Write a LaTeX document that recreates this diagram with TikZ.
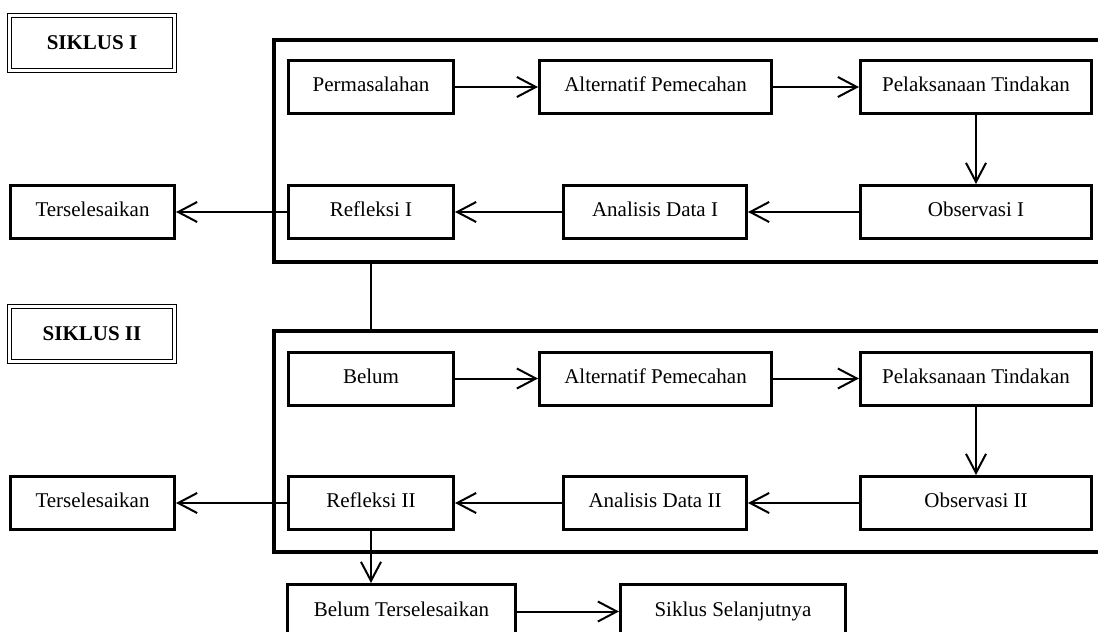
\documentclass[tikz,border=0pt]{standalone}
\usepackage{fontspec}
\setmainfont{Liberation Serif}
\usetikzlibrary{arrows.meta,calc}

\tikzset{
	kotak/.style={draw, line width=3pt, minimum height=53pt, inner sep=0pt,
		text height=14pt, text depth=4.5pt},
	judul/.style={draw, double, line width=1.2pt, double distance=2.5pt,
		minimum width=165pt, minimum height=55pt, font=\bfseries\fontsize{21}{25}\selectfont},
	bingkai/.style={draw, line width=4.5pt, minimum width=846pt},
	panah/.style={line width=2pt, -{Straight Barb[length=19pt,width=20pt]}},
	garis/.style={line width=2pt}
}

\begin{document}
\begin{tikzpicture}[x=1pt, y=-1pt, font=\fontsize{21}{25}\selectfont]
	\useasboundingbox (0,0) rectangle (1098,632);
	%frames
	\node[bingkai, minimum height=222pt] (bingkaiA) at (697,151) {};
	\node[bingkai, minimum height=221pt] (bingkaiB) at (697,441.5) {};
	%titles
	\node[judul] (siklusA) at (92,43) {SIKLUS I};
	\node[judul] (siklusB) at (92,334) {SIKLUS II};
	%cycle I
	\node[kotak, minimum width=165pt] (masalah) at (371,87) {Permasalahan};
	\node[kotak, minimum width=232pt] (alternatifA) at (655.5,87) {Alternatif Pemecahan};
	\node[kotak, minimum width=231pt] (pelaksanaanA) at (976,87) {Pelaksanaan Tindakan};
	\node[kotak, minimum width=231pt] (observasiA) at (976,212) {Observasi I};
	\node[kotak, minimum width=183pt] (analisisA) at (655,212) {Analisis Data I};
	\node[kotak, minimum width=165pt] (refleksiA) at (371,212) {Refleksi I};
	\node[kotak, minimum width=164pt] (selesaiA) at (92.5,212) {Terselesaikan};
	%cycle II
	\node[kotak, minimum width=165pt] (belum) at (371,378.5) {Belum};
	\node[kotak, minimum width=232pt] (alternatifB) at (655.5,378.5) {Alternatif Pemecahan};
	\node[kotak, minimum width=231pt] (pelaksanaanB) at (976,378.5) {Pelaksanaan Tindakan};
	\node[kotak, minimum width=231pt] (observasiB) at (976,503) {Observasi II};
	\node[kotak, minimum width=183pt] (analisisB) at (655,503) {Analisis Data II};
	\node[kotak, minimum width=165pt] (refleksiB) at (371,503) {Refleksi II};
	\node[kotak, minimum width=164pt] (selesaiB) at (92.5,503) {Terselesaikan};
	%next
	\node[kotak, minimum width=228pt, minimum height=54pt] (belumSelesai) at (401.5,611.5) {Belum Terselesaikan};
	\node[kotak, minimum width=225pt, minimum height=54pt] (lanjut) at (733,611.5) {Siklus Selanjutnya};
	%arrows
	\draw[panah] (masalah) -- (alternatifA);
	\draw[panah] (alternatifA) -- (pelaksanaanA);
	\draw[panah] (pelaksanaanA) -- (observasiA);
	\draw[panah] (observasiA) -- (analisisA);
	\draw[panah] (analisisA) -- (refleksiA);
	\draw[panah] (refleksiA) -- (selesaiA);
	\draw[panah] (belum) -- (alternatifB);
	\draw[panah] (alternatifB) -- (pelaksanaanB);
	\draw[panah] (pelaksanaanB) -- (observasiB);
	\draw[panah] (observasiB) -- (analisisB);
	\draw[panah] (analisisB) -- (refleksiB);
	\draw[panah] (refleksiB) -- (selesaiB);
	\draw[garis] (bingkaiA.south -| refleksiA) -- (bingkaiB.north -| refleksiA);
	\draw[panah] (refleksiB.south) -- (refleksiB.south |- belumSelesai.north);
	\draw[panah] (belumSelesai) -- (lanjut);
\end{tikzpicture}
\end{document}
